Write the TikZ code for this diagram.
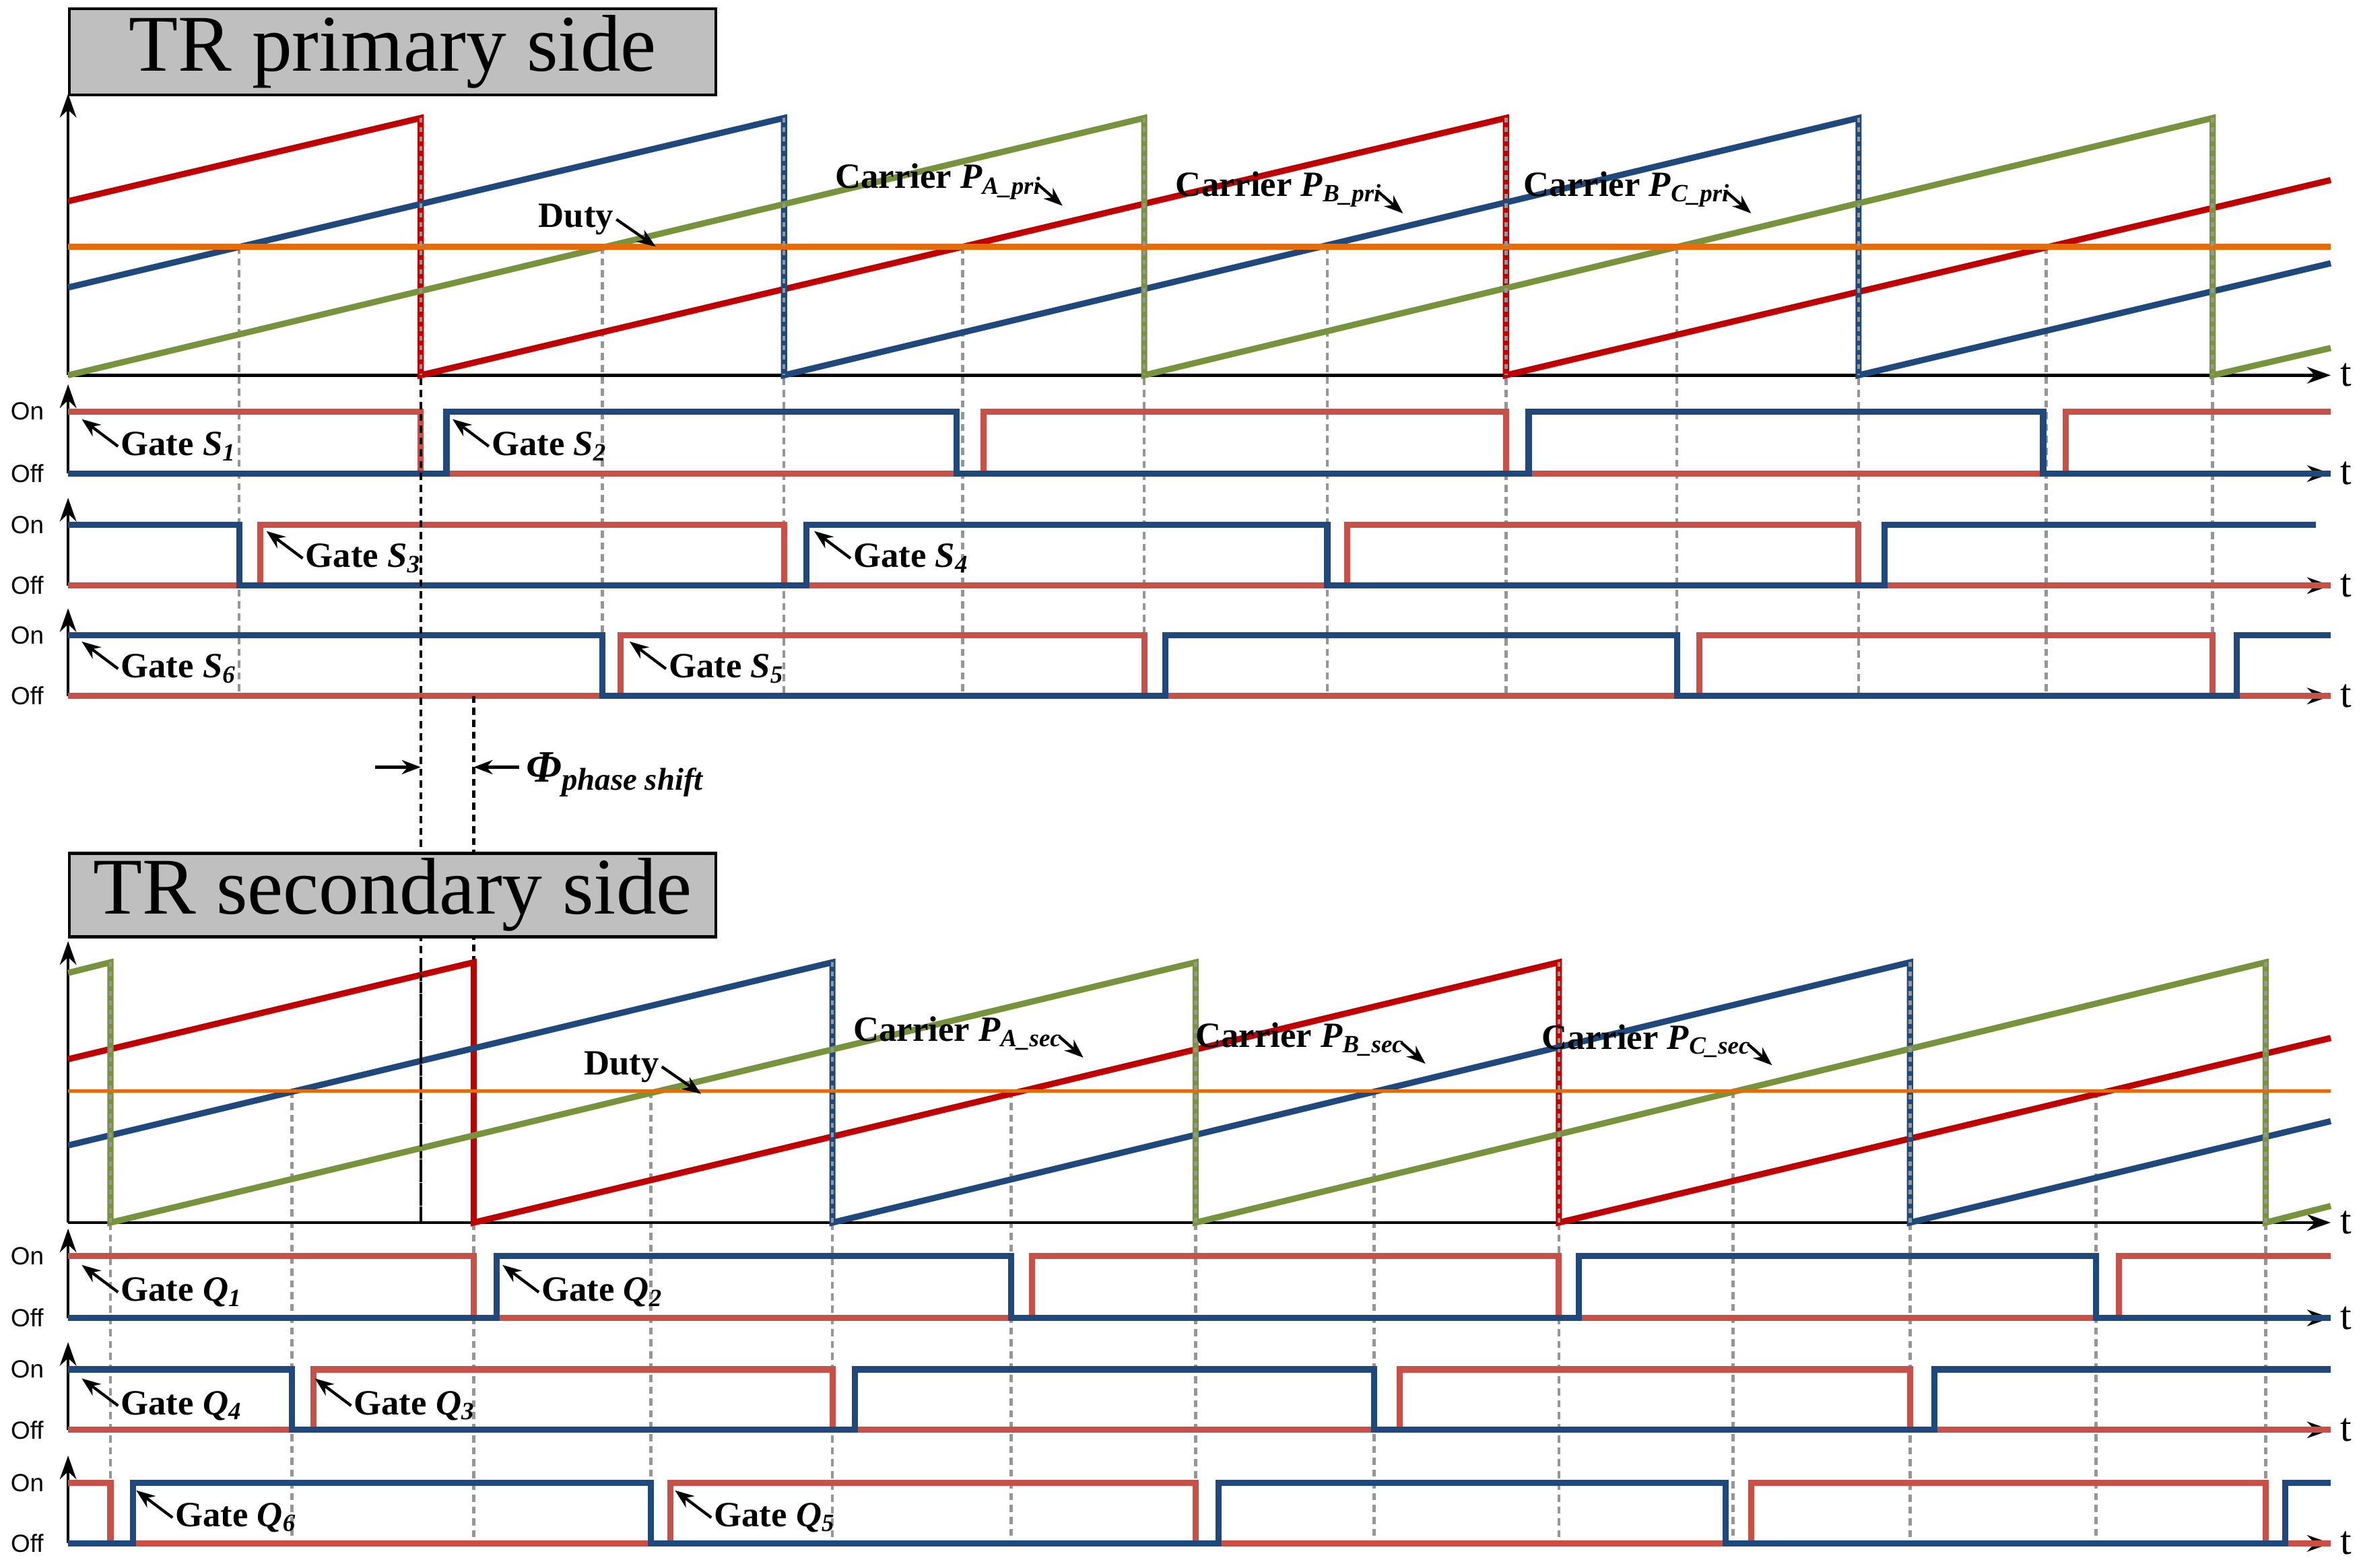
\documentclass[tikz,border=0pt]{standalone}
\usepackage{fontspec}
\setmainfont{Liberation Serif}
\newfontfamily\sansf{Liberation Sans}
\usetikzlibrary{arrows.meta}
\definecolor{cred}{RGB}{192,0,0}
\definecolor{gred}{RGB}{200,80,70}
\definecolor{cblue}{RGB}{31,73,125}
\definecolor{cgreen}{RGB}{119,147,60}
\definecolor{corange}{RGB}{228,108,10}
\definecolor{dgray}{RGB}{150,150,150}
\newcommand{\gsub}[2]{\textit{#1}\textsubscript{\textit{#2}}}
\begin{document}
\begin{tikzpicture}[x=0.02247cm, y=-0.02247cm,
    wave/.style={line width=2.6pt, line join=miter},
    grid/.style={dash pattern=on 3pt off 2pt, line width=1.3pt, color=dgray},
    phase/.style={dash pattern=on 3pt off 2pt, line width=1.3pt, color=black},
    axis/.style={-{Stealth[length=10pt, width=7pt]}, line width=1.3pt},
    ptr/.style={-{Stealth[length=8pt, width=6pt]}, line width=1.2pt},
    lbl/.style={font=\fontsize{15}{15}\selectfont\bfseries, inner sep=1pt, anchor=west},
    onoff/.style={font=\sansf\fontsize{10.5}{10.5}\selectfont, anchor=center}
]
\useasboundingbox (0,0) rectangle (1560,1036);

% ---------------- primary side
\node[draw, fill=black!25, line width=1.2pt, minimum width=9.6cm, minimum height=1.28cm,
  font=\fontsize{34}{34}\selectfont, anchor=north west, inner sep=0pt] (tpri) at (45,5) {TR primary side};

\foreach \x/\y in {158/163,278/78,398/163,518/78,636/163,756/78,877/163,995/78,1108/163,1228/78,1352/163,1462/78}
  \draw[grid] (\x,\y) -- (\x,460);

\draw[axis] (45,248) -- (45,62);
\draw[axis] (45,248) -- (1540,248) node[right, font=\fontsize{17}{17}\selectfont] {t};
\draw[wave, cred] (45,133) -- (278,78) -- (278,248) -- (995,78) -- (995,248) -- (1540,119);
\draw[wave, cblue] (45,190) -- (518,78) -- (518,248) -- (1228,78) -- (1228,248) -- (1540,174);
\draw[wave, cgreen] (45,248) -- (756,78) -- (756,248) -- (1462,78) -- (1462,248) -- (1540,230);
\draw[wave, corange] (45,163) -- (1540,163);
\foreach \x in {278,518,756,995,1228,1462}
  \draw[grid, dash pattern=on 2pt off 2pt] (\x,78) -- (\x,248);

\foreach \yon/\yoff/\name in {272/313/r1,347/387/r2,420/460/r3}{
  \draw[axis] (45,\yoff) -- (45,\yon-18);
  \draw[axis] (45,\yoff) -- (1540,\yoff) node[right, font=\fontsize{17}{17}\selectfont] {t};
  \node[onoff] (on\name) at (18,\yon) {On};
  \node[onoff] (off\name) at (18,\yoff) {Off};
}
\draw[wave, gred] (45,272) -- (278,272) -- (278,313) -- (650,313) -- (650,272) -- (995,272) -- (995,313) -- (1365,313) -- (1365,272) -- (1540,272);
\draw[wave, cblue] (45,313) -- (295,313) -- (295,272) -- (632,272) -- (632,313) -- (1010,313) -- (1010,272) -- (1350,272) -- (1350,313) -- (1540,313);
\draw[wave, gred] (45,387) -- (172,387) -- (172,347) -- (518,347) -- (518,387) -- (890,387) -- (890,347) -- (1228,347) -- (1228,387) -- (1540,387);
\draw[wave, cblue] (45,347) -- (158,347) -- (158,387) -- (533,387) -- (533,347) -- (877,347) -- (877,387) -- (1245,387) -- (1245,347) -- (1530,347);
\draw[wave, gred] (45,460) -- (410,460) -- (410,420) -- (756,420) -- (756,460) -- (1123,460) -- (1123,420) -- (1462,420) -- (1462,460) -- (1540,460);
\draw[wave, cblue] (45,420) -- (398,420) -- (398,460) -- (770,460) -- (770,420) -- (1108,420) -- (1108,460) -- (1478,460) -- (1478,420) -- (1540,420);

\node[lbl] (gS1) at (78,295) {Gate \gsub{S}{1}};
\node[lbl] (gS2) at (323,295) {Gate \gsub{S}{2}};
\node[lbl] (gS3) at (200,369) {Gate \gsub{S}{3}};
\node[lbl] (gS4) at (562,369) {Gate \gsub{S}{4}};
\node[lbl] (gS6) at (78,442) {Gate \gsub{S}{6}};
\node[lbl] (gS5) at (440,442) {Gate \gsub{S}{5}};
\foreach \n in {gS1,gS2,gS3,gS4,gS6,gS5}
  \draw[ptr] (\n.west) -- ++(-24,-18);
\node[lbl] (dpri) at (354,145) {Duty};
\node[lbl] (cApri) at (550,120) {Carrier \gsub{P}{A\_pri}};
\node[lbl] (cBpri) at (775,125) {Carrier \gsub{P}{B\_pri}};
\node[lbl] (cCpri) at (1005,125) {Carrier \gsub{P}{C\_pri}};
\draw[ptr] (dpri.east) -- ++(26,18);
\foreach \n in {cApri,cBpri,cCpri}
  \draw[ptr] (\n.east) ++(-4,2) -- ++(16,14);

% ---------------- phase shift
\draw[phase] (278,250) -- (278,808);
\draw[phase] (313,460) -- (313,808);
\coordinate (pl) at (248,507);
\coordinate (pr) at (343,507);
\draw[ptr] (pl) -- (278,507);
\draw[ptr] (pr) -- (313,507);
\node[font=\fontsize{19}{19}\selectfont\bfseries, anchor=west, inner sep=1pt] (phi) at (346,512)
  {\textit{Φ}\textsubscript{\textit{phase shift}}};

% ---------------- secondary side
\node[draw, fill=black!25, line width=1.2pt, minimum width=9.6cm, minimum height=1.24cm,
  font=\fontsize{34}{34}\selectfont, anchor=north west, inner sep=0pt] (tsec) at (45,563) {TR secondary side};

\foreach \x/\y in {73/636,193/721,313/636,430/721,550/636,668/721,790/636,908/721,1030/636,1145/721,1262/636,1385/721,1497/636}
  \draw[grid] (\x,\y) -- (\x,1020);

\draw[axis] (45,808) -- (45,622);
\draw[axis] (45,808) -- (1540,808) node[right, font=\fontsize{17}{17}\selectfont] {t};
\draw[wave, cred] (45,700) -- (313,636) -- (313,808) -- (1030,636) -- (1030,808) -- (1540,686);
\draw[wave, cblue] (45,757) -- (550,636) -- (550,808) -- (1262,636) -- (1262,808) -- (1540,741);
\draw[wave, cgreen] (45,643) -- (73,636) -- (73,808) -- (790,636) -- (790,808) -- (1497,636) -- (1497,808) -- (1540,797);
\draw[line width=1.5pt, corange] (45,721) -- (1540,721);
\foreach \x in {73,550,790,1030,1262,1497}
  \draw[grid, dash pattern=on 2pt off 2pt] (\x,636) -- (\x,808);
\draw[phase] (278,636) -- (278,808);

\foreach \yon/\yoff/\name in {830/871/q1,905/945/q2,980/1020/q3}{
  \draw[axis] (45,\yoff) -- (45,\yon-18);
  \draw[axis] (45,\yoff) -- (1540,\yoff) node[right, font=\fontsize{17}{17}\selectfont] {t};
  \node[onoff] (on\name) at (18,\yon) {On};
  \node[onoff] (off\name) at (18,\yoff) {Off};
}
\draw[wave, gred] (45,830) -- (313,830) -- (313,871) -- (682,871) -- (682,830) -- (1030,830) -- (1030,871) -- (1400,871) -- (1400,830) -- (1540,830);
\draw[wave, cblue] (45,871) -- (328,871) -- (328,830) -- (668,830) -- (668,871) -- (1043,871) -- (1043,830) -- (1385,830) -- (1385,871) -- (1540,871);
\draw[wave, gred] (45,945) -- (207,945) -- (207,905) -- (550,905) -- (550,945) -- (925,945) -- (925,905) -- (1262,905) -- (1262,945) -- (1540,945);
\draw[wave, cblue] (45,905) -- (193,905) -- (193,945) -- (565,945) -- (565,905) -- (908,905) -- (908,945) -- (1278,945) -- (1278,905) -- (1540,905);
\draw[wave, gred] (45,980) -- (73,980) -- (73,1020) -- (443,1020) -- (443,980) -- (790,980) -- (790,1020) -- (1157,1020) -- (1157,980) -- (1497,980) -- (1497,1020) -- (1540,1020);
\draw[wave, cblue] (45,1020) -- (88,1020) -- (88,980) -- (430,980) -- (430,1020) -- (805,1020) -- (805,980) -- (1140,980) -- (1140,1020) -- (1510,1020) -- (1510,980) -- (1540,980);

\node[lbl] (gQ1) at (78,854) {Gate \gsub{Q}{1}};
\node[lbl] (gQ2) at (356,854) {Gate \gsub{Q}{2}};
\node[lbl] (gQ4) at (78,929) {Gate \gsub{Q}{4}};
\node[lbl] (gQ3) at (232,929) {Gate \gsub{Q}{3}};
\node[lbl] (gQ6) at (114,1003) {Gate \gsub{Q}{6}};
\node[lbl] (gQ5) at (470,1003) {Gate \gsub{Q}{5}};
\foreach \n in {gQ1,gQ2,gQ4,gQ3,gQ6,gQ5}
  \draw[ptr] (\n.west) -- ++(-24,-18);
\node[lbl] (dsec) at (384,705) {Duty};
\node[lbl] (cAsec) at (562,683) {Carrier \gsub{P}{A\_sec}};
\node[lbl] (cBsec) at (788,687) {Carrier \gsub{P}{B\_sec}};
\node[lbl] (cCsec) at (1017,688) {Carrier \gsub{P}{C\_sec}};
\draw[ptr] (dsec.east) -- ++(26,18);
\foreach \n in {cAsec,cBsec,cCsec}
  \draw[ptr] (\n.east) ++(-4,2) -- ++(16,14);
\end{tikzpicture}
\end{document}
